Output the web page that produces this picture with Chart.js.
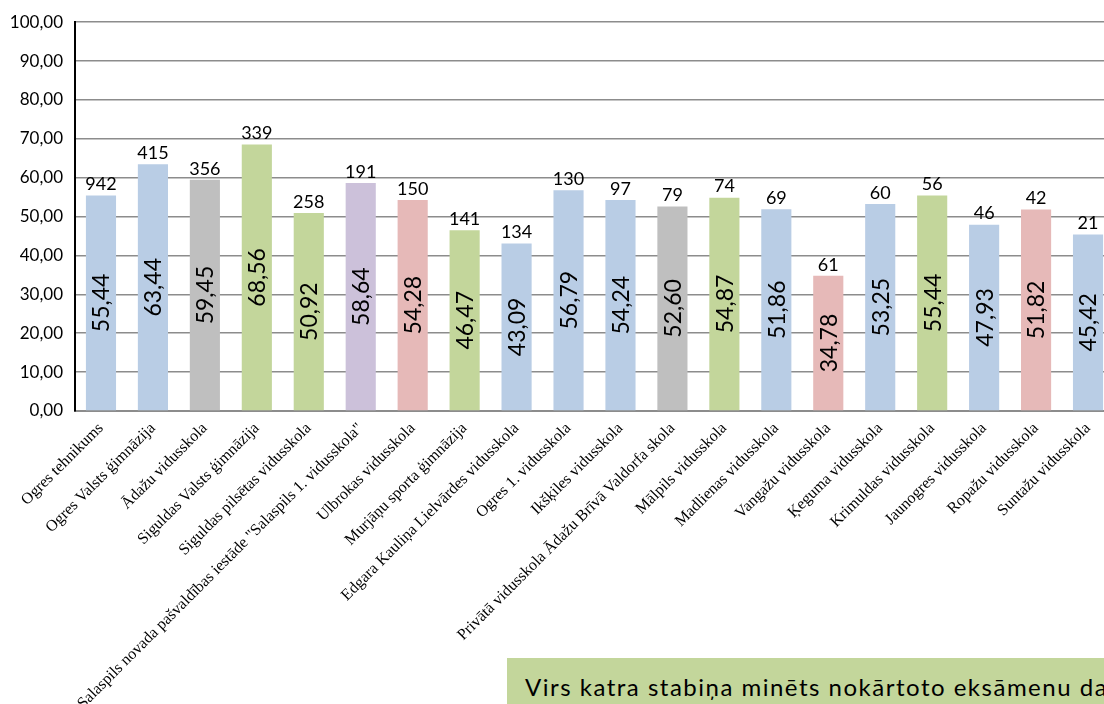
<!DOCTYPE html>
<html>
<head>
<meta charset="utf-8">
<script src="https://cdn.jsdelivr.net/npm/chart.js@4.4.1/dist/chart.umd.min.js"></script>
<style>
  html, body { margin: 0; padding: 0; background: #fff; overflow: hidden; width: 1104px; height: 704px; }
  #wrap { position: absolute; left: 0; top: 0; width: 1114px; height: 704px; }
  #note {
    position: absolute; left: 507px; top: 658px; width: 640px; height: 60px;
    background: #C3D69B; font-family: Lato, sans-serif; font-size: 24px;
    letter-spacing: 1.5px; color: #000; white-space: nowrap; padding: 14px 0 0 18px; box-sizing: border-box;
  }
</style>
</head>
<body>
<div id="wrap"><canvas id="chart"></canvas></div>
<div id="note">Virs katra stabiņa minēts nokārtoto eksāmenu da</div>
<script>
// schools, in the order shown
const schools = [
  'Ogres tehnikums',
  'Ogres Valsts ģimnāzija',
  'Ādažu vidusskola',
  'Siguldas Valsts ģimnāzija',
  'Siguldas pilsētas vidusskola',
  'Salaspils novada pašvaldības iestāde "Salaspils 1. vidusskola"',
  'Ulbrokas vidusskola',
  'Murjāņu sporta ģimnāzija',
  'Edgara Kauliņa Lielvārdes vidusskola',
  'Ogres 1. vidusskola',
  'Ikšķiles vidusskola',
  'Privātā vidusskola Ādažu Brīvā Valdorfa skola',
  'Mālpils vidusskola',
  'Madlienas vidusskola',
  'Vangažu vidusskola',
  'Ķeguma vidusskola',
  'Krimuldas vidusskola',
  'Jaunogres vidusskola',
  'Ropažu vidusskola',
  'Suntažu vidusskola'
];

// average result, %
const scores = [55.44, 63.44, 59.45, 68.56, 50.92, 58.64, 54.28, 46.47, 43.09, 56.79,
                54.24, 52.60, 54.87, 51.86, 34.78, 53.25, 55.44, 47.93, 51.82, 45.42];

// number of exams passed (shown above each bar)
const examCounts = [942, 415, 356, 339, 258, 191, 150, 141, 134, 130,
                    97, 79, 74, 69, 61, 60, 56, 46, 42, 21];

// bar colour group per school
const groups = ['blue', 'blue', 'grey', 'green', 'green', 'purple', 'pink', 'green', 'blue', 'blue',
                'blue', 'grey', 'green', 'blue', 'pink', 'blue', 'green', 'blue', 'pink', 'blue'];

const palette = {
  blue: '#B9CDE5',
  grey: '#BFBFBF',
  green: '#C3D69B',
  purple: '#CCC1DA',
  pink: '#E6B9B8'
};

const fmt = v => v.toFixed(2).replace('.', ',');

// Draw values inside bars and counts above them
const barLabels = {
  id: 'barLabels',
  afterDatasetsDraw(chart) {
    const ctx = chart.ctx;
    const meta = chart.getDatasetMeta(0);
    ctx.save();
    ctx.fillStyle = '#000';
    meta.data.forEach((bar, i) => {
      // count above
      ctx.font = '18px Lato, sans-serif';
      ctx.textAlign = 'center';
      ctx.textBaseline = 'bottom';
      ctx.fillText(String(examCounts[i]), bar.x, bar.y - 2);

      // score inside, rotated
      ctx.save();
      ctx.translate(bar.x, (bar.y + bar.base) / 2);
      ctx.rotate(-Math.PI / 2);
      ctx.font = '23px Lato, sans-serif';
      ctx.textBaseline = 'middle';
      ctx.fillText(fmt(scores[i]), 0, 1);
      ctx.restore();
    });
    ctx.restore();
  }
};

new Chart(document.getElementById('chart'), {
  type: 'bar',
  data: {
    labels: schools,
    datasets: [{
      data: scores,
      backgroundColor: groups.map(g => palette[g]),
      borderWidth: 0,
      barPercentage: 0.58,
      categoryPercentage: 1
    }]
  },
  options: {
    responsive: true,
    maintainAspectRatio: false,
    animation: false,
    layout: { padding: { top: 12, left: 0, right: 0, bottom: 0 } },
    plugins: {
      legend: { display: false },
      tooltip: { enabled: false }
    },
    scales: {
      x: {
        grid: { display: false, drawTicks: false },
        border: { color: '#8c8c8c', width: 2 },
        ticks: {
          autoSkip: false,
          maxRotation: 45,
          minRotation: 45,
          padding: 8,
          color: '#000',
          font: { family: '"Liberation Serif", "Times New Roman", serif', size: 16 }
        },
        afterFit(scale) { scale.height = 293; }
      },
      y: {
        min: 0,
        max: 100,
        ticks: {
          stepSize: 10,
          padding: 12,
          color: '#000',
          font: { family: 'Lato, sans-serif', size: 17 },
          callback: v => fmt(v)
        },
        grid: { color: '#8c8c8c', lineWidth: 1.5, drawTicks: false },
        border: { color: '#000', width: 2 },
        afterFit(scale) { scale.width = 75; }
      }
    }
  },
  plugins: [barLabels]
});
</script>
</body>
</html>
